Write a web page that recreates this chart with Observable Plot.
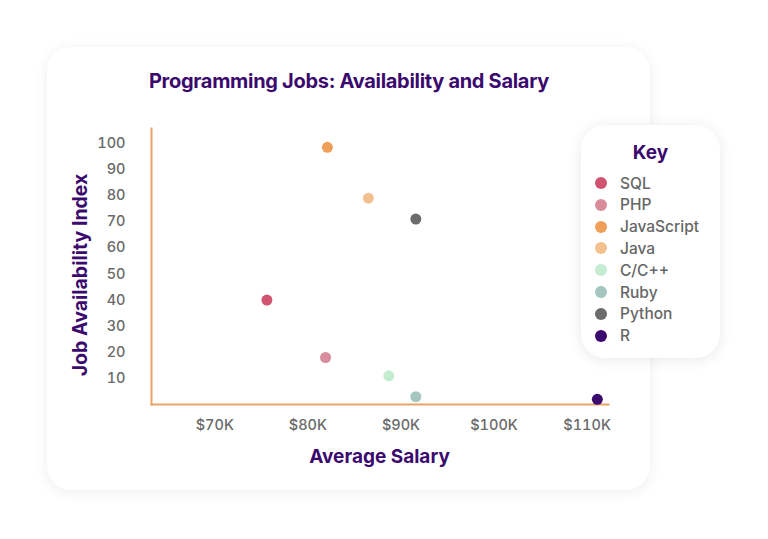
<!DOCTYPE html>
<html>
<head>
<meta charset="utf-8">
<script src="https://cdn.jsdelivr.net/npm/d3@7"></script>
<script src="https://cdn.jsdelivr.net/npm/@observablehq/plot@0.6"></script>
<style>
  html, body { margin: 0; padding: 0; background: #ffffff; }
  #page { position: relative; width: 768px; height: 539px; overflow: hidden; font-family: Inter, "Noto Sans", sans-serif; }
  .card { position: absolute; background: #fff; border-radius: 24px; box-shadow: 0 2px 14px rgba(0,0,0,0.07); }
  #main { left: 47px; top: 47px; width: 603px; height: 443px; }
  #key { left: 581px; top: 125px; width: 139px; height: 233px; box-shadow: 0 2px 14px rgba(0,0,0,0.09); }
  #title { position: absolute; left: 0; width: 698px; top: 69px; text-align: center; font-weight: 700; font-size: 20px; color: #3b0a6e; letter-spacing: -0.3px; }
  #xlabel { position: absolute; left: 151px; width: 457px; top: 445px; text-align: center; font-weight: 700; font-size: 19px; color: #3b0a6e; }
  #ylabel { position: absolute; left: 80px; top: 275px; transform: translate(-50%, -50%) rotate(-90deg); white-space: nowrap; font-weight: 700; font-size: 19.5px; color: #3b0a6e; }
  #plot { position: absolute; left: 0; top: 0; }
  #keytitle { position: absolute; left: 0; width: 139px; top: 16px; text-align: center; font-weight: 700; font-size: 19px; color: #3b0a6e; }
  .krow { position: absolute; left: 14px; height: 20px; display: flex; align-items: center; font-size: 15.5px; color: #666; font-weight: 500; }
  .kdot { width: 12px; height: 12px; border-radius: 50%; margin-right: 13px; }
</style>
</head>
<body>
<div id="page">
  <div class="card" id="main"></div>
  <div id="title">Programming Jobs: Availability and Salary</div>
  <div id="plot"></div>
  <div id="ylabel">Job Availability Index</div>
  <div id="xlabel">Average Salary</div>
  <div class="card" id="key"><div id="keytitle">Key</div></div>
</div>
<script>
const languages = ["SQL", "PHP", "JavaScript", "Java", "C/C++", "Ruby", "Python", "R"];
const salaryK = [75.6, 81.9, 82.1, 86.5, 88.7, 91.6, 91.6, 111.1];
const availability = [40, 18, 98.5, 79, 11, 3, 71, 2];
const colors = ["#d0546f", "#d98c9a", "#f09f59", "#f3c18f", "#c4ecd0", "#a4c6be", "#6c6c6c", "#3b0a6e"];
const xTicks = [70, 80, 90, 100, 110];
const yTicks = [10, 20, 30, 40, 50, 60, 70, 80, 90, 100];

const data = languages.map((name, i) => ({name, salary: salaryK[i], avail: availability[i]}));

const chart = Plot.plot({
  width: 768,
  height: 539,
  marginLeft: 151,
  marginRight: 160,
  marginTop: 128,
  marginBottom: 135,
  style: {background: "transparent", fontFamily: "Inter, 'Noto Sans', sans-serif", fontSize: "14.5px", color: "#6a6a6a", fontWeight: 500},
  x: {domain: [63.2, 112.3], ticks: xTicks, tickFormat: d => `$${d}K`, label: null, tickSize: 0, tickPadding: 15},
  y: {domain: [0, 105.7], ticks: yTicks, label: null, tickSize: 0, tickPadding: 26},
  color: {domain: languages, range: colors},
  marks: [
    Plot.axisX({ticks: xTicks, tickFormat: d => `$${d}K`, tickSize: 0, tickPadding: 15, label: null, fill: "#6a6a6a"}),
    Plot.axisY({ticks: yTicks, tickSize: 0, tickPadding: 26, label: null, fill: "#6a6a6a"}),
    Plot.frame({anchor: "left", stroke: "#e8a467", strokeWidth: 2, strokeOpacity: 1}),
    Plot.frame({anchor: "bottom", stroke: "#e8a467", strokeWidth: 2, strokeOpacity: 1}),
    Plot.dot(data, {x: "salary", y: "avail", fill: "name", r: 5.5})
  ]
});
document.getElementById("plot").appendChild(chart);

const key = document.getElementById("key");
languages.forEach((name, i) => {
  const row = document.createElement("div");
  row.className = "krow";
  row.style.top = (48 + i * 21.8) + "px";
  const dot = document.createElement("div");
  dot.className = "kdot";
  dot.style.background = colors[i];
  const label = document.createElement("span");
  label.textContent = name;
  row.appendChild(dot);
  row.appendChild(label);
  key.appendChild(row);
});
</script>
</body>
</html>
